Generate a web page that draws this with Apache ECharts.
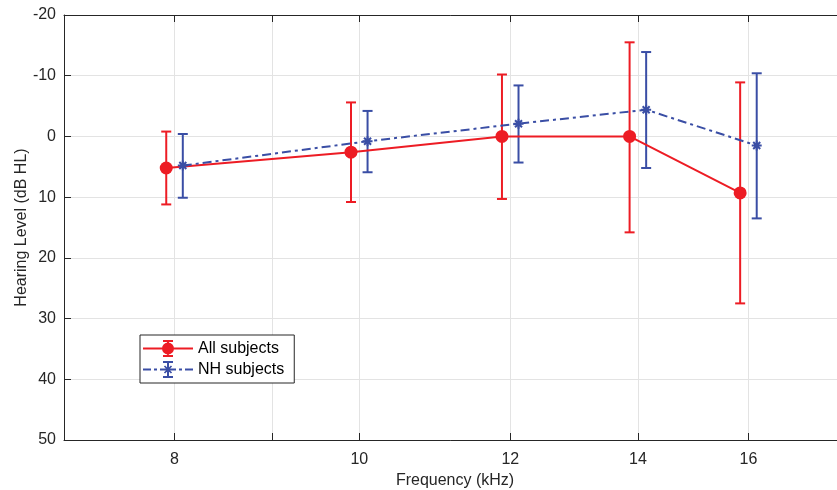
<!DOCTYPE html>
<html>
<head>
<meta charset="utf-8">
<script src="https://cdn.jsdelivr.net/npm/echarts@6/dist/echarts.min.js"></script>
<style>html,body{margin:0;padding:0;background:#fff;}#c{width:837px;height:490px;}</style>
</head>
<body>
<div id="c"></div>
<script>
// ---- data ----
const xTickValues = [8, 9, 10, 12, 14, 16];
const xLabelValues = [8, 10, 12, 14, 16];
const yTicks = [-20, -10, 0, 10, 20, 30, 40, 50];

const allFreq = [7.92, 9.9, 11.88, 13.86, 15.84];
const allMean = [5.2, 2.6, 0.0, 0.0, 9.3];
const allLow  = [-0.8, -5.6, -10.2, -15.5, -8.9];
const allHigh = [11.2, 10.8, 10.3, 15.8, 27.5];

const nhFreq = [8.08, 10.1, 12.12, 14.14, 16.16];
const nhMean = [4.8, 0.8, -2.1, -4.4, 1.5];
const nhLow  = [-0.4, -4.2, -8.4, -13.9, -10.4];
const nhHigh = [10.1, 5.9, 4.3, 5.2, 13.5];

const RED = '#ed1c24';
const BLUE = '#3a4ea5';
const AXC = '#262626';
const FONT = 'Liberation Sans, Arial, Helvetica, sans-serif';

function pts(xs, ys) { return xs.map((x, i) => [x, ys[i]]); }
function bars(xs, lo, hi) { return xs.map((x, i) => [x, lo[i], hi[i]]); }

function errRender(color) {
  return function (params, api) {
    const x = api.value(0);
    const p1 = api.coord([x, api.value(1)]);
    const p2 = api.coord([x, api.value(2)]);
    const hw = 5;
    const st = { stroke: color, lineWidth: 2 };
    return {
      type: 'group',
      children: [
        { type: 'line', shape: { x1: p1[0], y1: p1[1], x2: p2[0], y2: p2[1] }, style: st },
        { type: 'line', shape: { x1: p1[0] - hw, y1: p1[1], x2: p1[0] + hw, y2: p1[1] }, style: st },
        { type: 'line', shape: { x1: p2[0] - hw, y1: p2[1], x2: p2[0] + hw, y2: p2[1] }, style: st }
      ]
    };
  };
}

const star = 'path://M0,5L10,5M5,0L5,10M1.5,1.5L8.5,8.5M8.5,1.5L1.5,8.5';

// legend glyphs: line + error bar + marker
const iconAll = 'path://M0,7.5h50v2h-50Z M24,0h2v17h-2Z M20,0h10v2h-10Z M20,15h10v2h-10Z M19,8.5a6,6 0 1,1 12,0a6,6 0 1,1 -12,0Z';
const iconNH = 'path://M0,7.6h8v1.8h-8Z M11,7.6h3v1.8h-3Z M17,7.6h7v1.8h-7Z M26,7.6h7v1.8h-7Z M36,7.6h3v1.8h-3Z M42,7.6h8v1.8h-8Z ' +
  'M24,0h2v17h-2Z M20,0h10v2h-10Z M20,15h10v2h-10Z M21,7.6h8v1.8h-8Z ' +
  'M20.9,5.6L22.1,4.4L29.1,11.4L27.9,12.6Z M27.9,4.4L29.1,5.6L22.1,12.6L20.9,11.4Z';

const xAxisCommon = {
  type: 'log', logBase: 10, min: 7, max: 18,
  axisLine: { show: true, onZero: false, lineStyle: { color: AXC, width: 1 } },
  axisTick: { show: true, inside: true, length: 7, customValues: xTickValues, lineStyle: { color: AXC } },
  minorTick: { show: false },
  minorSplitLine: { show: false }
};

const chart = echarts.init(document.getElementById('c'), null, { renderer: 'canvas' });
chart.setOption({
  animation: false,
  textStyle: { fontFamily: FONT },
  grid: { left: 64, top: 15, right: -9, bottom: 50, containLabel: false, outerBoundsMode: 'none' },
  legend: {
    data: [{ name: 'All subjects', icon: iconAll }, { name: 'NH subjects', icon: iconNH }],
    orient: 'vertical', left: 140, top: 335,
    itemWidth: 50, itemHeight: 17, itemGap: 4,
    padding: [5, 10, 5, 3],
    itemStyle: { borderWidth: 0 },
    backgroundColor: '#fff', borderColor: AXC, borderWidth: 1, borderRadius: 0,
    textStyle: { fontSize: 16, color: '#000', fontFamily: FONT }
  },
  xAxis: [
    Object.assign({}, xAxisCommon, {
      position: 'bottom',
      name: 'Frequency (kHz)', nameLocation: 'middle', nameGap: 33,
      nameTextStyle: { fontSize: 16, color: AXC, fontFamily: FONT },
      axisLabel: { show: true, customValues: xLabelValues, fontSize: 16, color: AXC, margin: 12, fontFamily: FONT },
      splitLine: { show: true, lineStyle: { color: '#e3e3e3', width: 1 } }
    }),
    Object.assign({}, xAxisCommon, {
      position: 'top',
      axisLabel: { show: false },
      splitLine: { show: false }
    })
  ],
  yAxis: {
    type: 'value', inverse: true, min: -20, max: 50, interval: 10,
    name: 'Hearing Level (dB HL)', nameLocation: 'middle', nameGap: 34, nameMoveOverlap: false,
    nameTextStyle: { fontSize: 16, color: AXC, fontFamily: FONT },
    axisLine: { show: true, onZero: false, lineStyle: { color: AXC, width: 1 } },
    axisTick: { show: true, inside: true, length: 7, lineStyle: { color: AXC } },
    axisLabel: { fontSize: 16, color: AXC, margin: 8, fontFamily: FONT },
    splitLine: { show: true, lineStyle: { color: '#e3e3e3', width: 1 } }
  },
  series: [
    {
      name: 'All subjects', type: 'custom', renderItem: errRender(RED),
      itemStyle: { color: RED },
      data: bars(allFreq, allLow, allHigh), encode: { x: 0, y: [1, 2] }, z: 3, silent: true
    },
    {
      name: 'NH subjects', type: 'custom', renderItem: errRender(BLUE),
      itemStyle: { color: BLUE },
      data: bars(nhFreq, nhLow, nhHigh), encode: { x: 0, y: [1, 2] }, z: 3, silent: true
    },
    {
      name: 'All subjects', type: 'line', data: pts(allFreq, allMean),
      color: RED,
      lineStyle: { color: RED, width: 2 },
      symbol: 'circle', symbolSize: 13,
      itemStyle: { color: RED },
      z: 4
    },
    {
      name: 'NH subjects', type: 'line', data: pts(nhFreq, nhMean),
      color: BLUE,
      lineStyle: { color: BLUE, width: 2, type: [9, 4, 3, 4] },
      symbol: star, symbolSize: 10,
      itemStyle: { color: BLUE, borderColor: BLUE, borderWidth: 2 },
      z: 5
    }
  ]
});
</script>
</body>
</html>
